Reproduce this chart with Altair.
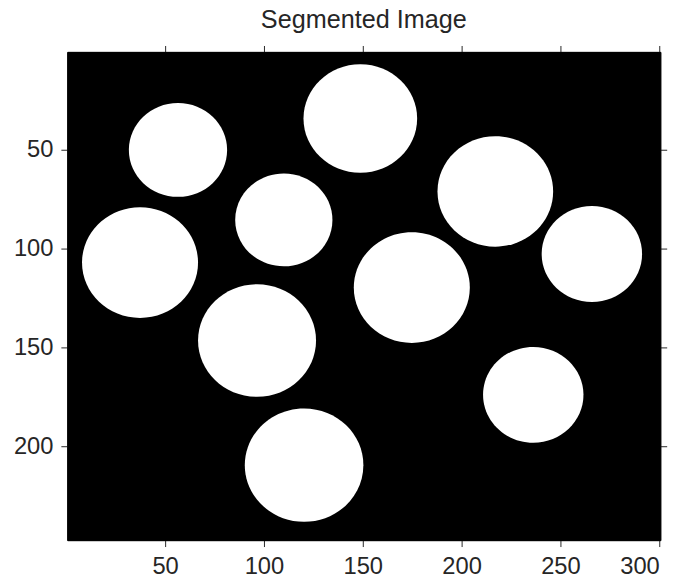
import altair as alt
import pandas as pd

# Segmented blobs: centre (x, y) and horizontal radius, in image pixel units
cx = [56.5, 148.75, 217.05, 110.05, 37.3, 265.9, 174.8, 96.5, 236.25, 120.3]
cy = [50.1, 34.2, 71.1, 85.5, 107.1, 102.75, 119.75, 146.5, 174.0, 209.6]
rx = [24.85, 28.75, 29.25, 24.6, 29.35, 25.4, 29.35, 29.85, 25.4, 30.0]

x_ticks = [50, 100, 150, 200, 250, 300]
y_ticks = [50, 100, 150, 200]

df = pd.DataFrame({"cx": cx, "cy": cy, "r": rx})

# slightly flattened ellipse shape (ry/rx = 0.955) in the unit box
k = 0.5523
ar = 0.955
ellipse = (
    f"M-1,0C-1,{-k*ar:.4f},{-k:.4f},{-ar},0,{-ar}"
    f"C{k:.4f},{-ar},1,{-k*ar:.4f},1,0"
    f"C1,{k*ar:.4f},{k:.4f},{ar},0,{ar}"
    f"C{-k:.4f},{ar},-1,{k*ar:.4f},-1,0Z"
)

xs = alt.Scale(domain=[0.5, 300.5], nice=False, zero=False)
ys = alt.Scale(domain=[0.5, 247.5], nice=False, zero=False, reverse=True)

axis_common = dict(
    grid=False,
    domainColor="black",
    tickColor="#262626",
    tickSize=6.5,
    tickWidth=1,
    labelFont="Liberation Sans",
    labelFontSize=24,
    labelColor="#262626",
    labelPadding=8,
    title=None,
)

blobs = (
    alt.Chart(df)
    .transform_calculate(area="16 * datum.r * datum.r")
    .mark_point(shape=ellipse, filled=True, color="white", opacity=1,
                strokeWidth=0, clip=True)
    .encode(
        x=alt.X("cx:Q", scale=xs,
                axis=alt.Axis(orient="bottom", values=x_ticks, **axis_common)),
        y=alt.Y("cy:Q", scale=ys,
                axis=alt.Axis(orient="left", values=y_ticks, **axis_common)),
        size=alt.Size("area:Q", scale=None, legend=None),
    )
)

frame = (
    alt.Chart(df)
    .mark_point(opacity=0)
    .encode(
        x=alt.X("cx:Q", scale=xs,
                axis=alt.Axis(orient="top", values=x_ticks, labels=False,
                              **axis_common)),
        y=alt.Y("cy:Q", scale=ys,
                axis=alt.Axis(orient="right", values=y_ticks, labels=False,
                              **axis_common)),
    )
)

chart = (
    alt.layer(blobs, frame)
    .properties(
        width=600,
        height=494,
        autosize=alt.AutoSizeParams(type="none"),
        padding={"left": 60, "top": 41, "right": 22, "bottom": 44},
        title=alt.TitleParams(
            "Segmented Image",
            font="Liberation Sans",
            fontSize=25.5,
            fontWeight="normal",
            color="#262626",
            anchor="middle",
            baseline="alphabetic",
            offset=-8,
        ),
        background="white",
    )
    .configure_view(fill="black", stroke="black")
)

chart.save("out.html", embed_options={"renderer": "svg", "actions": False})
